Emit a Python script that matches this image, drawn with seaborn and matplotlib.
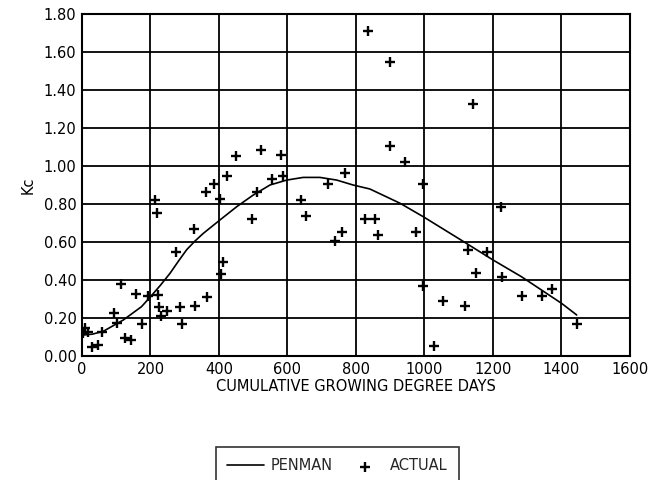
import matplotlib
matplotlib.use("Agg")
import matplotlib.pyplot as plt
import seaborn as sns
import pandas as pd

# Actual measured Kc values
actual_gdd = [4, 9, 18, 28, 48, 57, 94, 101, 114, 126, 143, 157, 174, 194, 213, 220, 223, 226, 230,
              247, 274, 286, 291, 327, 330, 362, 364, 386, 403, 405, 411, 425, 450, 496, 510, 522,
              554, 580, 588, 639, 653, 719, 739, 760, 768, 836, 826, 856, 865, 899, 899, 943, 977,
              997, 995, 1029, 1055, 1118, 1128, 1143, 1151, 1184, 1224, 1228, 1284, 1345, 1372, 1447]
actual_kc = [0.12, 0.146, 0.128, 0.046, 0.058, 0.125, 0.225, 0.172, 0.379, 0.093, 0.084, 0.325, 0.168,
             0.316, 0.821, 0.754, 0.321, 0.256, 0.21, 0.237, 0.549, 0.256, 0.168, 0.667, 0.263, 0.865,
             0.312, 0.905, 0.825, 0.432, 0.493, 0.947, 1.054, 0.719, 0.865, 1.084, 0.932, 1.058, 0.947,
             0.821, 0.738, 0.904, 0.607, 0.654, 0.961, 1.712, 0.721, 0.721, 0.635, 1.549, 1.107, 1.023,
             0.654, 0.905, 0.368, 0.054, 0.291, 0.263, 0.558, 1.326, 0.438, 0.546, 0.786, 0.417, 0.316,
             0.316, 0.353, 0.168]

# Penman curve
penman_gdd = [0, 30, 62, 121, 174, 199, 228, 257, 282, 306, 330, 354, 403, 452, 500, 549, 598, 646,
              695, 744, 792, 841, 929, 997, 1104, 1201, 1284, 1401, 1445]
penman_kc = [0.11, 0.115, 0.13, 0.19, 0.26, 0.31, 0.37, 0.435, 0.50, 0.56, 0.605, 0.645, 0.716, 0.786,
             0.847, 0.9, 0.926, 0.94, 0.94, 0.926, 0.9, 0.879, 0.804, 0.733, 0.614, 0.505, 0.417,
             0.277, 0.216]

x_ticks = [0, 200, 400, 600, 800, 1000, 1200, 1400, 1600]
y_ticks = [0.0, 0.2, 0.4, 0.6, 0.8, 1.0, 1.2, 1.4, 1.6, 1.8]

sns.set_theme(style="white")
plt.rcParams['font.family'] = ['DejaVu Sans']

df_a = pd.DataFrame({"gdd": actual_gdd, "kc": actual_kc})
df_p = pd.DataFrame({"gdd": penman_gdd, "kc": penman_kc})

fig = plt.figure(figsize=(6.65, 4.8), dpi=100)
ax = fig.add_axes([0.1233, 0.2583, 0.8237, 0.7125])

sns.lineplot(data=df_p, x="gdd", y="kc", ax=ax, color="black", linewidth=1.2,
             label="PENMAN", sort=False, zorder=3)
sns.scatterplot(data=df_a, x="gdd", y="kc", ax=ax, marker="+", color="black", s=50,
                linewidth=1.7, label="ACTUAL", zorder=4)

ax.set_xlim(0, 1600)
ax.set_ylim(0, 1.8)
ax.set_xticks(x_ticks)
ax.set_yticks(y_ticks)
ax.set_yticklabels([f"{v:.2f}" for v in y_ticks])
ax.grid(True, color="black", linewidth=1.3)
ax.set_axisbelow(True)
for s in ax.spines.values():
    s.set_color("black")
    s.set_linewidth(1.5)
ax.tick_params(axis="both", labelsize=10.5, colors="black", length=0, pad=4)
ax.set_xlabel("CUMULATIVE GROWING DEGREE DAYS", fontsize=10.5, color="black", labelpad=2)
ax.set_ylabel("Kc", fontsize=10.5, color="black", labelpad=6)

ax.legend_.remove()
h, l = ax.get_legend_handles_labels()
leg = fig.legend(h, l, loc="upper center", bbox_to_anchor=(0.5075, 0.083), ncol=2,
                 frameon=True, fancybox=False, edgecolor="black", fontsize=10.5,
                 handlelength=2.5, handletextpad=0.5, columnspacing=0.9, borderpad=0.75)
leg.get_frame().set_linewidth(1.2)

fig.savefig("out.png", dpi=100)
